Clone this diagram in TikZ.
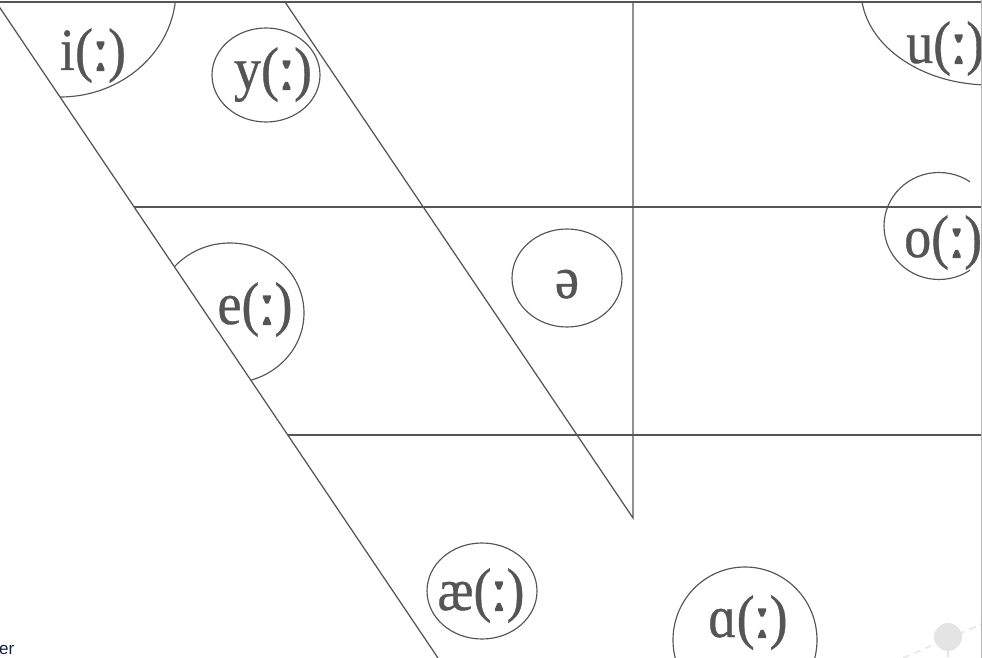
\documentclass[tikz,border=0pt]{standalone}
\usepackage{fontspec}
\setmainfont{Liberation Serif}
\newfontfamily\ipafont[FakeStretch=0.9,FakeBold=0.6]{Liberation Serif}
\newfontfamily\colonfont[FakeStretch=0.9,FakeBold=3.5]{Liberation Serif}
\newfontfamily\uifont{Liberation Sans}
\newcommand\lngmark{{\colonfont\fontsize{60}{60}\selectfont ː}}
\definecolor{ink}{HTML}{555555}
\definecolor{faint}{HTML}{E4E4E4}
\definecolor{edge}{HTML}{B4B4B4}
\definecolor{uiblue}{HTML}{14213D}
\begin{document}
\begin{tikzpicture}[x=1pt,y=-1pt]
\tikzset{
  chart/.style={draw=ink, line width=1.25pt},
  ring/.style={draw=ink, line width=1.15pt},
  vowel/.style={text=ink, font=\ipafont\fontsize{60}{60}\selectfont, inner sep=0pt, anchor=base},
}
\useasboundingbox (0,0) rectangle (982,658);
\clip (0,0) rectangle (982,658);
\fill[white] (0,0) rectangle (982,658);
% chart corners
\coordinate (TL) at (-4,2);
\coordinate (TR) at (982,2);
\coordinate (FB) at (438,658);
\coordinate (BR) at (982,658);
\coordinate (CT) at (285,2);
\coordinate (CB) at (633,518);
\coordinate (VT) at (633,2);
\coordinate (M1) at (134,207);
\coordinate (M1R) at (982,207);
\coordinate (M2) at (288,435);
\coordinate (M2R) at (982,435);
% chart lines
\draw[chart] (TL) -- (TR);
\draw[chart] (TL) -- (FB);
\draw[chart] (CT) -- (CB) -- (VT);
\draw[chart] (M1) -- (M1R);
\draw[chart] (M2) -- (M2R);
% rings clipped by the front edge
\begin{scope}
  \clip (TL) -- (FB) -- (BR) -- (TR) -- cycle;
  \draw[ring] (60,-10) ellipse [x radius=116, y radius=107];
  \draw[ring] (230,313) ellipse [x radius=74, y radius=70];
  \draw[ring] (990,-10) ellipse [x radius=129, y radius=95];
\end{scope}
\begin{scope}
  \clip (0,0) rectangle (970,658);
  \draw[ring] (939,226) ellipse [x radius=55, y radius=53.5];
\end{scope}
\draw[ring] (266,75) ellipse [x radius=54, y radius=47];
\draw[ring] (567,278) ellipse [x radius=55, y radius=49];
\draw[ring] (482,591) ellipse [x radius=55, y radius=48];
\draw[ring] (745,640) ellipse [x radius=72, y radius=73];
% labels
\node[vowel] (i) at (93,70) {i(\lngmark)};
\node[vowel] (y) at (273,89) {y(\lngmark)};
\node[vowel] (e) at (255,324) {e(\lngmark)};
\node[vowel] (schwa) at (567,298) {ə};
\node[vowel] (ae) at (481,610) {æ(\lngmark)};
\node[vowel] (a) at (748,637) {ɑ(\lngmark)};
\node[vowel, anchor=base west] (u) at (906,63) {u(\lngmark)};
\node[vowel, anchor=base west] (o) at (904,257) {o(\lngmark)};
% stray interface bits
\node[font=\uifont\fontsize{17}{17}\selectfont, text=uiblue, anchor=base west, inner sep=0pt] (er) at (-1,654) {er};
\draw[faint, line width=1.3pt, dash pattern=on 7pt off 5pt] (903,658) -- (982,624);
\fill[faint] (948,637) circle [radius=14];
\draw[faint, line width=1.5pt] (948,651) -- (948,657);
\draw[edge, line width=1pt] (981.5,0) -- (981.5,658);
\end{tikzpicture}
\end{document}
